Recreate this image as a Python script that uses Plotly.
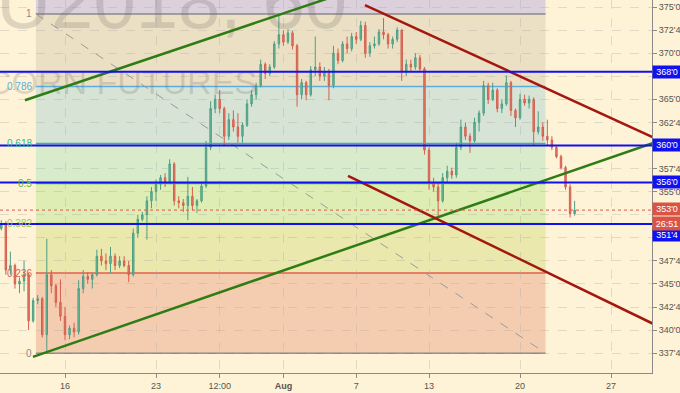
import plotly.graph_objects as go

# ---------------- data ----------------
# x axis: trading-day index (0 = Mon Jul 16 2018), bars every quarter day
BAR_START = -3.5
BAR_STEP = 0.25

OPEN = [351.0, 351.5, 346.5, 347.0, 345.0, 345.3, 346.0, 341.0, 343.2, 343.4,
        339.5, 346.0, 344.8, 343.0, 341.5, 339.5, 340.2, 339.8, 344.5, 345.8,
        345.5, 346.0, 348.0, 347.5, 347.2, 348.0, 347.0, 347.5, 347.0, 346.0,
        350.5, 352.0, 352.5, 354.0, 355.0, 355.8, 356.5, 356.0, 358.0, 354.0,
        353.8, 353.5, 354.5, 353.5, 354.0, 355.6, 359.8, 364.0, 365.0, 364.0,
        361.0, 362.8, 362.0, 361.0, 362.2, 364.5, 365.5, 366.5, 368.8, 367.8,
        368.5, 371.0, 372.0, 371.2, 372.2, 370.8, 365.5, 366.8, 365.5, 368.2,
        368.5, 367.5, 368.0, 366.5, 370.0, 369.2, 371.0, 370.5, 371.8, 371.5,
        373.0, 370.0, 370.8, 371.0, 372.3, 372.0, 371.0, 371.5, 372.5, 368.0,
        368.8, 368.5, 369.5, 368.3, 359.5, 356.0, 355.5, 354.0, 356.5, 357.2,
        356.8, 359.8, 362.0, 361.0, 360.5, 362.5, 363.5, 366.5, 365.0, 366.0,
        364.0, 364.5, 366.8, 363.8, 363.0, 365.0, 364.6, 365.0, 361.5, 362.0,
        361.0, 360.6, 359.8, 358.8, 357.6, 355.5, 352.6]
HIGH = [351.9, 351.8, 348.5, 347.2, 345.7, 347.5, 346.2, 343.5, 343.8, 343.6,
        349.9, 346.5, 345.0, 345.5, 342.5, 340.5, 340.8, 345.4, 346.5, 346.3,
        346.2, 348.7, 348.8, 348.3, 349.0, 348.3, 348.0, 348.0, 347.5, 351.0,
        352.5, 352.8, 354.5, 355.5, 356.3, 356.8, 357.0, 358.5, 358.2, 354.5,
        354.2, 356.6, 355.5, 354.2, 356.0, 360.5, 364.8, 365.5, 366.0, 364.2,
        363.5, 363.8, 363.5, 362.5, 365.0, 366.0, 366.8, 369.3, 369.0, 368.8,
        371.3, 374.2, 372.5, 372.6, 372.4, 371.0, 367.2, 367.0, 368.6, 371.8,
        369.0, 368.5, 368.3, 370.8, 370.5, 371.3, 371.8, 372.2, 372.3, 373.5,
        373.4, 371.2, 371.8, 372.6, 373.8, 372.2, 371.8, 372.8, 372.6, 369.3,
        369.3, 370.0, 369.8, 368.5, 359.8, 356.5, 356.0, 357.0, 357.8, 357.6,
        360.3, 362.8, 362.5, 361.3, 363.0, 363.8, 367.0, 366.8, 366.8, 366.2,
        365.0, 367.6, 367.0, 364.0, 365.6, 365.5, 365.4, 365.2, 363.7, 362.5,
        362.8, 361.0, 360.0, 359.0, 357.8, 355.8, 354.0]
LOW = [350.8, 346.0, 346.0, 344.5, 344.0, 344.2, 340.0, 340.8, 342.8, 339.2,
       337.5, 344.0, 342.5, 341.0, 338.9, 339.0, 339.2, 339.5, 344.0, 345.0,
       344.5, 345.8, 347.0, 346.5, 346.2, 346.5, 346.7, 346.8, 345.2, 345.8,
       350.0, 351.8, 349.8, 353.2, 354.0, 355.2, 355.5, 355.8, 353.5, 353.2,
       352.8, 351.9, 353.0, 352.7, 353.8, 355.4, 359.5, 363.5, 363.5, 360.0,
       360.6, 361.5, 360.3, 360.3, 362.0, 364.2, 365.0, 366.3, 367.2, 367.5,
       368.3, 370.5, 370.8, 371.0, 370.4, 364.2, 365.0, 364.9, 365.3, 367.5,
       367.0, 367.0, 364.9, 366.2, 368.8, 369.0, 370.0, 370.2, 371.0, 371.3,
       369.5, 369.6, 370.5, 370.8, 371.5, 370.5, 370.5, 371.2, 367.0, 367.5,
       368.0, 368.2, 368.0, 359.0, 355.2, 355.0, 352.2, 353.8, 356.0, 356.4,
       356.5, 359.5, 360.6, 359.2, 360.3, 361.5, 363.2, 364.5, 364.8, 363.6,
       363.5, 364.3, 363.2, 362.0, 362.8, 364.3, 364.0, 360.0, 361.2, 360.5,
       360.0, 359.5, 358.6, 357.4, 355.2, 352.2, 352.4]
CLOSE = [351.5, 346.5, 347.0, 345.0, 345.3, 346.0, 341.0, 343.2, 343.4, 339.5,
         346.0, 344.8, 343.0, 341.5, 339.5, 340.2, 339.8, 344.5, 345.8, 345.5,
         346.0, 348.0, 347.5, 347.2, 348.0, 347.0, 347.5, 347.0, 346.0, 350.5,
         352.0, 352.5, 354.0, 355.0, 355.8, 356.5, 356.0, 358.0, 354.0, 353.8,
         353.5, 354.5, 353.5, 354.0, 355.6, 359.8, 364.0, 365.0, 364.0, 361.0,
         362.8, 362.0, 361.0, 362.2, 364.5, 365.5, 366.5, 368.8, 367.8, 368.5,
         371.0, 372.0, 371.2, 372.2, 370.8, 365.5, 366.8, 365.5, 368.2, 368.5,
         367.5, 368.0, 366.5, 370.0, 369.2, 371.0, 370.5, 371.8, 371.5, 373.0,
         370.0, 370.8, 371.0, 372.3, 372.0, 371.0, 371.5, 372.5, 368.0, 368.8,
         368.5, 369.5, 368.3, 359.5, 356.0, 355.5, 354.0, 356.5, 357.2, 356.8,
         359.8, 362.0, 361.0, 360.5, 362.5, 363.5, 366.5, 365.0, 366.0, 364.0,
         364.5, 366.8, 363.8, 363.0, 365.0, 364.6, 365.0, 361.5, 362.0, 361.0,
         360.6, 359.8, 358.8, 357.6, 355.5, 352.6, 353.0]

# x ticks (trading-day index) and labels
X_TICKS = [0, 5, 8.5, 12, 16, 20, 25, 30]
X_TICK_TEXT = ["16", "23", "12:00", "<b>Aug</b>", "7", "13", "20", "27"]

# price ticks (right axis), corn quotes in eighths
Y_TICKS = [337.5, 340, 342.5, 345, 347.5, 350, 352.5, 355, 357.5, 360,
           362.5, 365, 367.5, 370, 372.5, 375]
Y_TICK_TEXT = ["337'4", "340'0", "342'4", "345'0", "347'4", "", "", "355'0",
               "357'4", "", "362'4", "365'0", "", "370'0", "372'4", "375'0"]

# Fibonacci retracement
FIB_X0, FIB_X1 = -1.6, 26.4
FIB_LOW, FIB_HIGH = 337.5, 374.25
FIB_LEVELS = [0, 0.236, 0.382, 0.5, 0.618, 0.786, 1]
FIB_LABELS = ["0", "0.236", "0.382", "0.5", "0.618", "0.786", "1"]

# horizontal support / resistance lines
BLUE_LEVELS = [368.0, 360.0, 356.0, 351.5]
BLUE_TEXT = ["368'0", "360'0", "356'0", "351'4"]
LAST_PRICE = 353.0
LAST_TEXT = "353'0"
COUNTDOWN = "26:51"

# trend lines: (x0, y0, x1, y1)
GREEN_LINES = [(-2.2, 364.9, 15.0, 376.3), (-1.76, 337.1, 32.5, 360.4)]
RED_LINES = [(16.48, 375.2, 32.5, 360.7), (15.55, 356.7, 32.5, 340.5)]

# ---------------- styling ----------------
X_RANGE = [-3.571, 32.25]
Y_RANGE = [335.35, 375.76]
BG = "#FEF3D6"
FONT = "Liberation Sans"

band_colors = ["#F4CDB0", "#EAE8AC", "#DEEDB4", "#D8EBCB", "#D6E3D5", "#ECE0C4"]
level_colors = ["#8a8a8a", "#E0604E", "#9CC94E", "#4EBE4E", "#38B98F", "#5AAEDF", "#8a8a8a"]

fig = go.Figure()

# bands
fib_prices = [FIB_LOW + r * (FIB_HIGH - FIB_LOW) for r in FIB_LEVELS]
for i in range(len(fib_prices) - 1):
    fig.add_shape(type="rect", xref="x", yref="y", x0=FIB_X0, x1=FIB_X1,
                  y0=fib_prices[i], y1=fib_prices[i + 1], fillcolor=band_colors[i],
                  line_width=0, layer="below")
fig.add_shape(type="rect", xref="x", yref="y", x0=FIB_X0, x1=FIB_X1,
              y0=FIB_HIGH, y1=FIB_LOW + 1.618 * (FIB_HIGH - FIB_LOW),
              fillcolor="#DCD0DC", line_width=0, layer="below")

# watermark
fig.add_trace(go.Scatter(x=[15.49], y=[374.8], mode="text", text=["ZCU2018, 60"],
                         textposition="middle left",
                         textfont=dict(size=76, family=FONT, color="rgba(110,100,100,0.22)"),
                         hoverinfo="skip", showlegend=False))
fig.add_trace(go.Scatter(x=[10.55], y=[366.55], mode="text", text=["CORN FUTURES"],
                         textposition="middle left",
                         textfont=dict(size=34, family=FONT, color="rgba(110,100,100,0.22)"),
                         hoverinfo="skip", showlegend=False))

# fib level lines
for p, c in zip(fib_prices, level_colors):
    fig.add_shape(type="line", xref="x", yref="y", x0=FIB_X0, x1=FIB_X1, y0=p, y1=p,
                  line=dict(color=c, width=1.5), layer="below")

# candles
bar_x = [BAR_START + BAR_STEP * i for i in range(len(OPEN))]
fig.add_trace(go.Candlestick(
    x=bar_x, open=OPEN, high=HIGH, low=LOW, close=CLOSE,
    increasing=dict(line=dict(color="#4E9E84", width=1), fillcolor="#6CBB9E"),
    decreasing=dict(line=dict(color="#D3604F", width=1), fillcolor="#E47A6A"),
    whiskerwidth=0, showlegend=False, hoverinfo="skip"))

# dashed fib diagonal
fig.add_trace(go.Scatter(x=[FIB_X0, FIB_X1], y=[FIB_HIGH, FIB_LOW], mode="lines",
                         line=dict(color="#9a9a9a", width=1, dash="dash"),
                         hoverinfo="skip", showlegend=False))

# blue horizontal lines
for p in BLUE_LEVELS:
    fig.add_shape(type="line", xref="paper", yref="y", x0=0, x1=1, y0=p, y1=p,
                  line=dict(color="#1010F0", width=2))
# last price dotted
fig.add_shape(type="line", xref="paper", yref="y", x0=0, x1=1, y0=LAST_PRICE, y1=LAST_PRICE,
              line=dict(color="#E0574A", width=1, dash="dot"))

# trend lines
for (x0, y0, x1, y1) in GREEN_LINES:
    fig.add_trace(go.Scatter(x=[x0, x1], y=[y0, y1], mode="lines",
                             line=dict(color="#2E7D14", width=2.5),
                             hoverinfo="skip", showlegend=False))
for (x0, y0, x1, y1) in RED_LINES:
    fig.add_trace(go.Scatter(x=[x0, x1], y=[y0, y1], mode="lines",
                             line=dict(color="#A3170F", width=2.5),
                             hoverinfo="skip", showlegend=False))

annotations = []
# fib labels
for p, t, c in zip(fib_prices, FIB_LABELS, level_colors):
    annotations.append(dict(x=FIB_X0, y=p, xref="x", yref="y", text=t, showarrow=False,
                            xanchor="right", yanchor="middle", xshift=-2,
                            font=dict(size=10, family=FONT, color=c)))
# right axis boxes
label_shift = {351.5: -1.15}
for p, t in zip(BLUE_LEVELS, BLUE_TEXT):
    annotations.append(dict(x=1, y=p + label_shift.get(p, 0), xref="paper", yref="y", text=t,
                            showarrow=False, xanchor="left", yanchor="middle",
                            bgcolor="#1010F0", width=28, height=12, borderpad=0,
                            font=dict(size=9, family=FONT, color="white")))
annotations.append(dict(x=1, y=LAST_PRICE + 0.1, xref="paper", yref="y", text=LAST_TEXT,
                        showarrow=False, xanchor="left", yanchor="middle",
                        bgcolor="#DA5446", width=28, height=12, borderpad=0,
                        font=dict(size=9, family=FONT, color="white")))
annotations.append(dict(x=1, y=LAST_PRICE - 1.4, xref="paper", yref="y", text=COUNTDOWN,
                        showarrow=False, xanchor="left", yanchor="middle",
                        bgcolor="#DA5446", width=28, height=13, borderpad=0,
                        font=dict(size=9, family=FONT, color="white")))

grid = "rgba(170,170,170,0.35)"
fig.update_layout(
    width=680, height=393,
    margin=dict(l=0, r=28, t=0, b=20),
    paper_bgcolor=BG, plot_bgcolor=BG,
    showlegend=False, boxgap=0.55,
    annotations=annotations,
    font=dict(family=FONT, size=9, color="#555555"),
    xaxis=dict(range=X_RANGE, tickvals=X_TICKS, ticktext=X_TICK_TEXT,
               showgrid=True, gridcolor=grid, griddash="dash", gridwidth=1,
               zeroline=False, showline=True, linecolor="#8a8a8a", linewidth=1,
               ticks="outside", ticklen=4, tickcolor="#8a8a8a",
               tickfont=dict(size=9, family=FONT, color="#555555"),
               rangeslider=dict(visible=False), fixedrange=True),
    yaxis=dict(range=Y_RANGE, side="right", tickvals=Y_TICKS, ticktext=Y_TICK_TEXT,
               showgrid=True, gridcolor=grid, griddash="dash", gridwidth=1,
               zeroline=False, showline=True, linecolor="#8a8a8a", linewidth=1,
               ticks="outside", ticklen=4, tickcolor="#8a8a8a",
               tickfont=dict(size=9, family=FONT, color="#555555"), fixedrange=True),
)

fig.write_html("out.html", config={"displayModeBar": False},
               post_script="document.body.style.margin='0';document.body.style.padding='0';"
                           "document.body.style.background='" + BG + "';")
